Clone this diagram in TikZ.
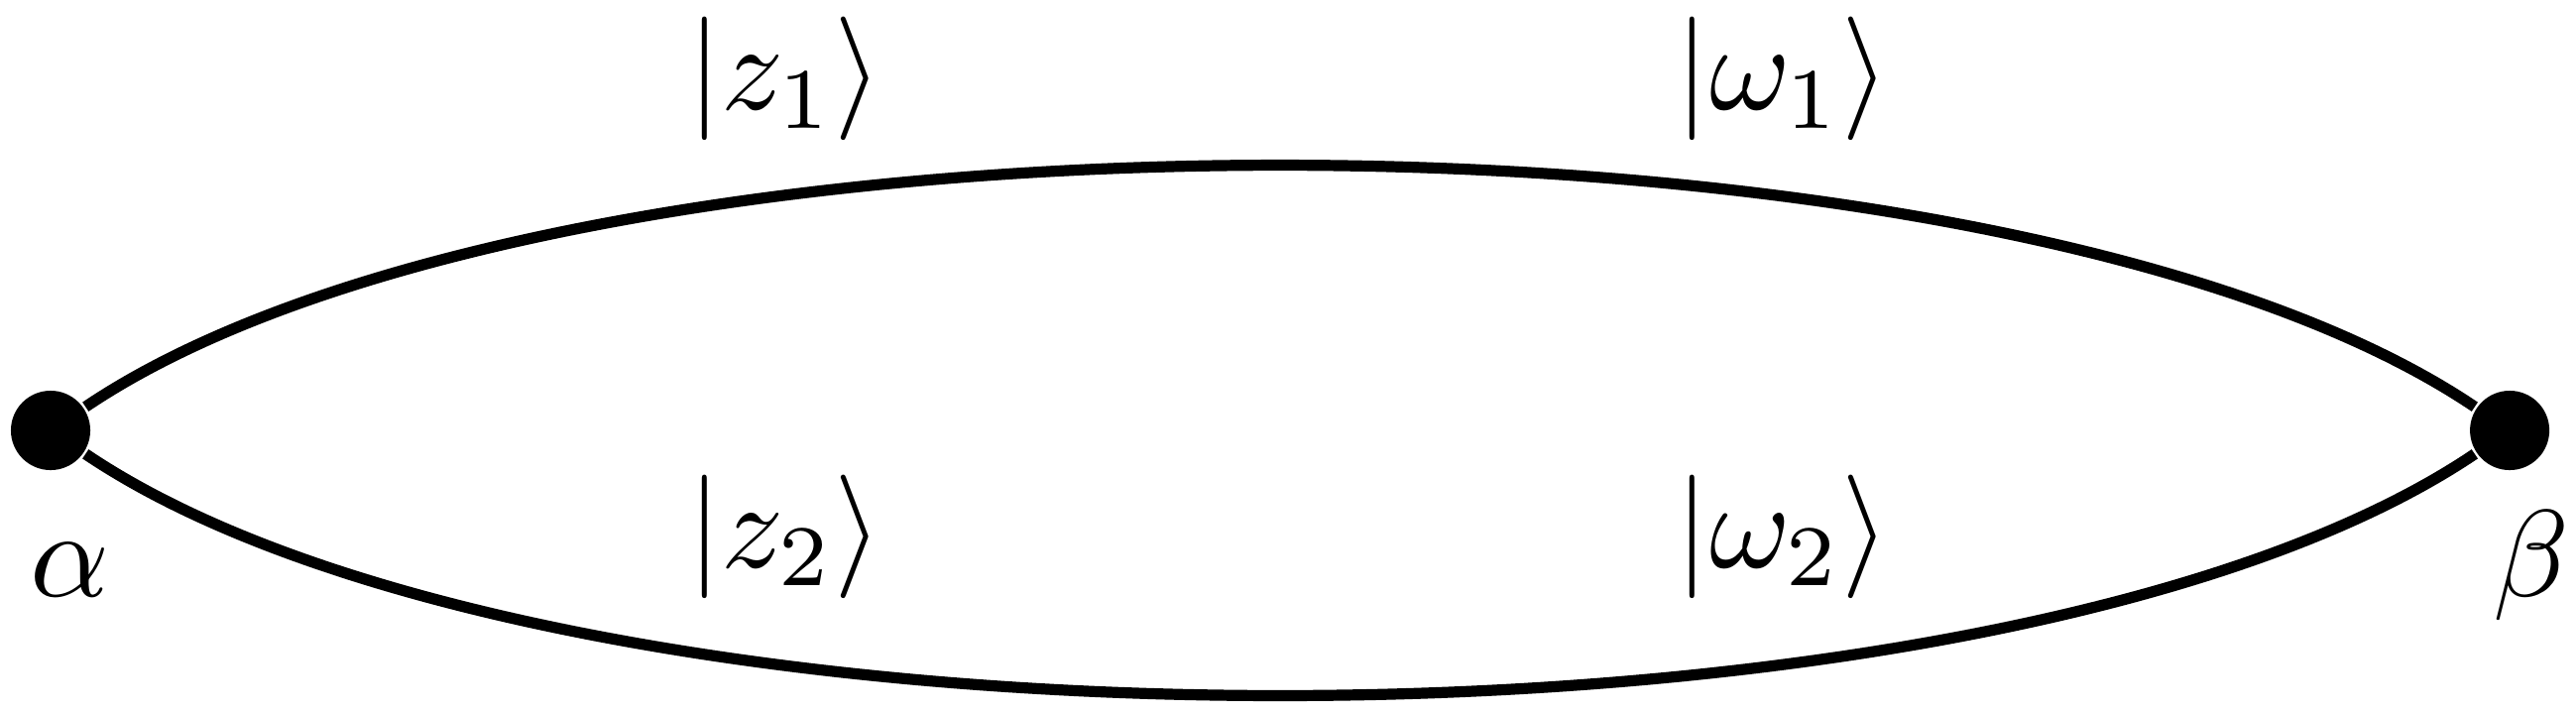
\documentclass[tikz,border=0pt]{standalone}
\usepackage{amssymb}
\usepackage{amsmath}
\usepackage{tikz}
\newcommand{\ket}[1]{$\vert #1\rangle$}
\newcommand{\bendout}{34}
\newcommand{\bendlen}{1.76}
\tikzset{
    vertex/.style={circle, fill, inner sep=0pt, minimum size=2.26mm},
    ket/.style={anchor=center, inner sep=1pt},
    vlabel/.style={anchor=base, inner sep=1pt},
    line/.style={line width=0.9pt}
}
\begin{document}
\begin{tikzpicture}
              \useasboundingbox (-0.144,-0.807) rectangle (7.189,1.225);
              \path
                  node[vertex] (alpha) at (0,0) {}
                  node[vertex] (beta) at (7,0) {};
              \path
                  node[vlabel] (alphalabel) at (0.056,-0.474) {$\alpha$}
                  node[vlabel] (betalabel) at (7.062,-0.474) {$\beta$};
              \path
                  node[ket] (z1) at (2.09,1.0) {\ket{z_1}}
                  node[ket] (w1) at (4.93,1.0) {\ket{\omega_1}}
                  node[ket] (z2) at (2.09,-0.302) {\ket{z_2}}
                  node[ket] (w2) at (4.93,-0.302) {\ket{\omega_2}};

              \draw[line] (alpha) .. controls +(\bendout:\bendlen) and +(180-\bendout:\bendlen) .. (beta);
              \draw[line] (alpha) .. controls +(-\bendout:\bendlen) and +(\bendout-180:\bendlen) .. (beta);
          \end{tikzpicture}
\end{document}
